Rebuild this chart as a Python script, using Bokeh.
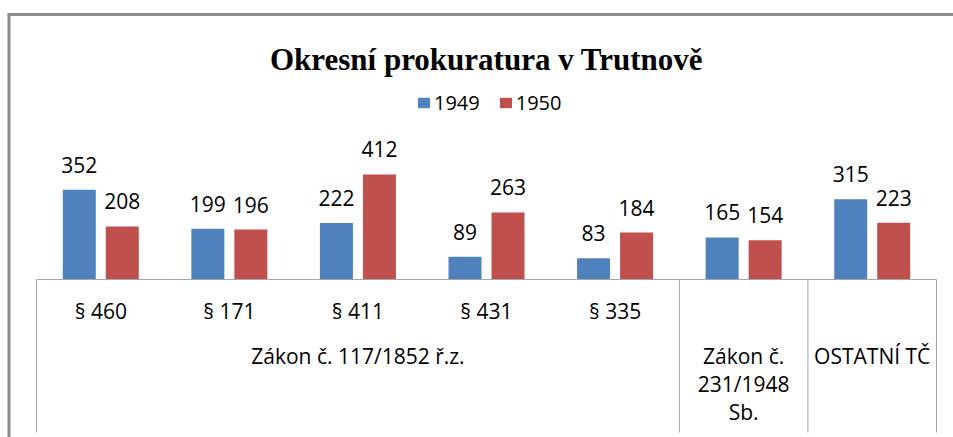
from bokeh.plotting import figure
from bokeh.models import Range1d, Legend, LegendItem
from bokeh.core.properties import value
from bokeh.embed import file_html
from bokeh.resources import INLINE

# ---------------- data ----------------
title = "Okresní prokuratura v Trutnově"
series = ["1949", "1950"]
sub_labels = ["§ 460", "§ 171", "§ 411", "§ 431", "§ 335", "", ""]
group_labels = ["Zákon č. 117/1852 ř.z.", "Zákon č.\n231/1948\nSb.", "OSTATNÍ TČ"]
group_sizes = [5, 1, 1]
v1949 = [352, 199, 222, 89, 83, 165, 315]
v1950 = [208, 196, 412, 263, 184, 154, 223]

# ---------------- layout (pixels) ----------------
W, H = 953, 437
X0_PX, X1_PX = 36, 936      # extent of category axis
BASE_PX = 279               # baseline position from top
PX_PER_UNIT = 0.255         # vertical scale
BAR_W_PX = 33
BAR_OFF_PX = 21.5

n = len(sub_labels)
cat_px = (X1_PX - X0_PX) / n
x_start = -X0_PX / cat_px
x_end = n + (W - X1_PX) / cat_px
y_end = BASE_PX / PX_PER_UNIT
y_start = -(H - BASE_PX) / PX_PER_UNIT


def dx(px):
    return x_start + px / cat_px


def dy(py):
    return y_end - py / PX_PER_UNIT


BLUE = "#4F81BD"
RED = "#C0504D"
FONT_NAME = "Open Sans"
FONT = value(FONT_NAME)

p = figure(width=W, height=H, x_range=Range1d(x_start, x_end), y_range=Range1d(y_start, y_end),
           output_backend="svg", toolbar_location=None, min_border=0,
           x_axis_location=None, y_axis_location=None)
p.outline_line_color = None
p.grid.visible = False
p.background_fill_color = "white"
p.border_fill_color = "white"

centers = [i + 0.5 for i in range(n)]
off = BAR_OFF_PX / cat_px
bw = BAR_W_PX / cat_px
x49 = [c - off for c in centers]
x50 = [c + off for c in centers]

r1 = p.vbar(x=x49, top=v1949, width=bw, bottom=0, fill_color=BLUE, line_color=None)
r2 = p.vbar(x=x50, top=v1950, width=bw, bottom=0, fill_color=RED, line_color=None)

# value labels
for xs, vals in ((x49, v1949), (x50, v1950)):
    p.text(x=xs, y=vals, text=[str(v) for v in vals], text_align="center",
           text_baseline="alphabetic", y_offset=-25, text_font=FONT,
           text_font_size="21px", text_color="#000000")

# category axis: baseline + separators
bounds = [0]
for s in group_sizes:
    bounds.append(bounds[-1] + s)
AX = "#A6A6A6"
p.segment(x0=[0], y0=[0], x1=[n], y1=[0], line_color=AX, line_width=1)
p.segment(x0=bounds, y0=[0] * len(bounds), x1=bounds, y1=[dy(432)] * len(bounds),
          line_color=AX, line_width=1)

# sub-category labels
p.text(x=centers, y=[0] * n, text=sub_labels, text_align="center", text_baseline="middle",
       y_offset=31, text_font=FONT, text_font_size="21px", text_color="#000000")

# group labels
gx = [bounds[i] + group_sizes[i] / 2 for i in range(len(group_sizes))]
p.text(x=gx, y=[0] * len(gx), text=group_labels, text_align="center", text_baseline="top",
       y_offset=62, text_font=FONT, text_font_size="21px", text_color="#000000",
       text_line_height=1.0)

# title
p.text(x=[dx(486)], y=[dy(59)], text=[title], text_align="center", text_baseline="alphabetic",
       text_font=value("Liberation Serif"), text_font_style="bold", text_font_size="31px",
       text_color="#000000")

# outer chart border (top & left visible)
BORDER = "#8C8C8C"
p.segment(x0=[dx(8.5), dx(7)], y0=[dy(14), dy(14)], x1=[dx(8.5), x_end], y1=[y_start, dy(14)],
          line_color=BORDER, line_width=3)

legend = Legend(items=[LegendItem(label=series[0], renderers=[r1]),
                       LegendItem(label=series[1], renderers=[r2])],
                orientation="horizontal", location=(416, 321),
                glyph_width=15, glyph_height=13, label_standoff=3, spacing=18,
                padding=0, margin=0, border_line_color=None, background_fill_alpha=0,
                label_text_font=FONT_NAME, label_text_font_size="20px", label_text_color="#000000")
p.add_layout(legend)

open("out.html", "w").write(file_html(p, INLINE))
